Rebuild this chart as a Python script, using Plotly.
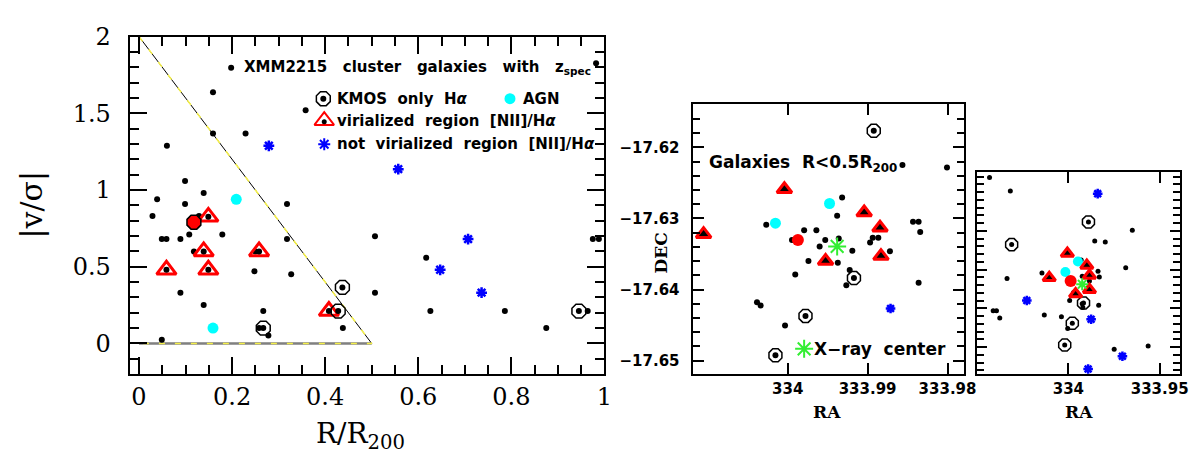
import plotly.graph_objects as go

# ---- left panel: |v/sigma| vs R/R200 ----
dots_r = [0.159, 0.358, 0.159, 0.229, 0.060, 0.099, 0.039, 0.139, 0.099, 0.318, 0.029, 0.129,
          0.049, 0.059, 0.089, 0.108, 0.179, 0.318, 0.118, 0.250, 0.248, 0.327, 0.089, 0.139,
          0.267, 0.258, 0.278, 0.049, 0.438, 0.507, 0.507, 0.617, 0.626, 0.786, 0.875, 0.964,
          0.975, 0.988, 0.982]
dots_v = [1.637, 1.519, 1.368, 1.368, 1.288, 1.059, 0.939, 0.981, 0.909, 0.909, 0.830, 0.830,
          0.680, 0.680, 0.680, 0.710, 0.710, 0.680, 0.600, 0.600, 0.470, 0.451, 0.331, 0.251,
          0.211, 0.100, 0.051, 0.024, 0.100, 0.699, 0.331, 0.558, 0.211, 0.211, 0.100, 0.211,
          0.680, 0.680, 1.826]
kmos_r = [0.267, 0.428, 0.437, 0.945]
kmos_v = [0.100, 0.211, 0.365, 0.211]
vir_r = [0.149, 0.139, 0.258, 0.059, 0.149, 0.408]
vir_v = [0.825, 0.600, 0.600, 0.480, 0.480, 0.211]
notvir_r = [0.279, 0.557, 0.647, 0.707, 0.736]
notvir_v = [1.288, 1.136, 0.480, 0.680, 0.331]
agn_r = [0.209, 0.159]
agn_v = [0.939, 0.100]
bcg_r = [0.118]
bcg_v = [0.790]
vir_limit_r = [0.0, 0.5, 0.0]
vir_limit_v = [2.0, 0.0, 0.0]

# ---- middle panel: galaxies R < 0.5 R200 ----
mid_dots_ra = [333.98007, 333.98564, 333.99319, 333.99381, 334.00268, 333.99794, 333.99641,
               333.98432, 333.98362, 333.98342, 333.99946, 333.98936, 333.98866, 333.98969,
               333.99530, 333.99361, 333.99600, 333.99191, 333.98721, 333.99740, 333.99373,
               333.99224, 333.99905, 333.99266, 333.98362, 334.00384, 334.00338, 334.00033]
mid_dots_dec = [-17.62282, -17.62250, -17.62704, -17.62963, -17.63090, -17.63167, -17.63167,
                -17.63045, -17.63045, -17.63190, -17.63303, -17.63272, -17.63272, -17.63340,
                -17.63303, -17.63281, -17.63394, -17.63453, -17.63462, -17.63599, -17.63622,
                -17.63726, -17.63789, -17.63939, -17.63903, -17.64180, -17.64225, -17.64507]
mid_kmos_ra = [333.98923, 333.99171, 333.99777, 334.00153]
mid_kmos_dec = [-17.61768, -17.63839, -17.64371, -17.64925]
mid_vir_ra = [334.00041, 333.99043, 333.98845, 334.01052, 333.98833, 333.99526]
mid_vir_dec = [-17.62590, -17.62917, -17.63131, -17.63222, -17.63530, -17.63599]
mid_notvir_ra = [333.98713]
mid_notvir_dec = [-17.64266]
mid_agn_ra = [333.99476, 334.00153]
mid_agn_dec = [-17.62790, -17.63067]
mid_bcg_ra = [333.99872]
mid_bcg_dec = [-17.63303]
xray_ra = [333.99381]
xray_dec = [-17.63394]

# ---- right panel: all galaxies ----
all_dots_ra = [334.04316, 334.03178, 333.96497, 333.98555, 333.97978, 333.96858, 334.03359,
               334.01445, 333.98375, 333.98303, 334.04117, 334.03936, 334.03756, 334.01318,
               334.00379, 334.00036, 333.98339, 333.99928, 333.97490, 333.95630, 333.99296,
               333.99242, 333.98844, 333.99711, 333.99242, 333.99206]
all_dots_dec = [-17.60621, -17.60972, -17.61986, -17.62262, -17.62287, -17.62949, -17.63225,
                -17.63083, -17.63041, -17.63192, -17.64063, -17.64063, -17.64247, -17.64172,
                -17.64214, -17.64515, -17.63920, -17.63795, -17.65051, -17.64967, -17.62748,
                -17.63167, -17.63292, -17.63586, -17.63879, -17.63979]
all_kmos_ra = [333.98899, 334.03106, 333.99169, 333.99783, 334.00199]
all_kmos_dec = [-17.61768, -17.62354, -17.63862, -17.64381, -17.64942]
all_vir_ra = [334.00054, 334.01047, 333.98989, 333.98844, 333.98844, 333.99603]
all_vir_dec = [-17.62580, -17.63208, -17.62890, -17.63150, -17.63518, -17.63627]
all_notvir_ra = [333.98393, 334.02275, 333.98754, 333.97039, 333.98917]
all_notvir_dec = [-17.61039, -17.63795, -17.64281, -17.65235, -17.65562]
all_agn_ra = [333.99476, 334.00163]
all_agn_dec = [-17.62790, -17.63058]
all_bcg_ra = [333.99874]
all_bcg_dec = [-17.63292]
all_xray_ra = [333.99242]
all_xray_dec = [-17.63376]

# tick labels
r_ticks = [0, 0.2, 0.4, 0.6, 0.8, 1]
r_labels = ["0", "0.2", "0.4", "0.6", "0.8", "1"]
v_ticks = [0, 0.5, 1, 1.5, 2]
v_labels = ["0", "0.5", "1", "1.5", "2"]
mid_ra_ticks = [334.0, 333.99, 333.98]
mid_ra_labels = ["334", "333.99", "333.98"]
dec_ticks = [-17.62, -17.63, -17.64, -17.65]
dec_labels = ["\u221217.62", "\u221217.63", "\u221217.64", "\u221217.65"]
all_ra_ticks = [334.0, 333.95]
all_ra_labels = ["334", "333.95"]

SERIF = "DejaVu Serif"
SANS = "DejaVu Sans"
NB = "\u00a0"
GREEN = "#33ee33"

fig = go.Figure()


def add_points(xa, ya, xs, ys, **marker):
    fig.add_trace(go.Scatter(x=xs, y=ys, xaxis=xa, yaxis=ya, mode="markers",
                             marker=marker, showlegend=False, hoverinfo="skip"))


def star(color, size, width=2.5):
    return dict(symbol="asterisk-open", color=color, size=size,
                line=dict(color=color, width=width))


# left panel
fig.add_trace(go.Scatter(x=vir_limit_r, y=vir_limit_v, mode="lines", showlegend=False,
                         line=dict(color="black", width=1)))
fig.add_trace(go.Scatter(x=vir_limit_r[1:], y=vir_limit_v[1:], mode="lines", showlegend=False,
                         line=dict(color="gray", width=2.5)))
fig.add_trace(go.Scatter(x=vir_limit_r, y=vir_limit_v, mode="lines", showlegend=False,
                         line=dict(color="#f5f04a", width=1.5, dash="6px,10px")))
add_points("x", "y", dots_r, dots_v, color="black", size=6)
add_points("x", "y", vir_r, vir_v, symbol="triangle-up-open", color="red", size=17,
           line=dict(color="red", width=3))
add_points("x", "y", vir_r, vir_v, color="black", size=6)
add_points("x", "y", kmos_r, kmos_v, symbol="octagon-open", color="black", size=15,
           line=dict(color="black", width=1.5))
add_points("x", "y", kmos_r, kmos_v, color="black", size=6)
add_points("x", "y", notvir_r, notvir_v, **star("blue", 9))
add_points("x", "y", agn_r, agn_v, color="cyan", size=11)
add_points("x", "y", bcg_r, bcg_v, symbol="octagon", color="red", size=15,
           line=dict(color="black", width=1.5))

# legend keys (layout positions, left panel data coordinates)
add_points("x", "y", [0.198], [1.797], color="black", size=6)
add_points("x", "y", [0.396], [1.595], symbol="octagon-open", color="black", size=15,
           line=dict(color="black", width=1.5))
add_points("x", "y", [0.396], [1.595], color="black", size=6)
add_points("x", "y", [0.797], [1.595], color="cyan", size=11)
add_points("x", "y", [0.398], [1.452], symbol="triangle-up-open", color="red", size=17,
           line=dict(color="red", width=2))
add_points("x", "y", [0.398], [1.445], color="black", size=5)
add_points("x", "y", [0.398], [1.298], **star("blue", 10, 2))

# middle panel
add_points("x2", "y2", mid_dots_ra, mid_dots_dec, color="black", size=6)
add_points("x2", "y2", mid_kmos_ra, mid_kmos_dec, symbol="octagon-open", color="black", size=14,
           line=dict(color="black", width=1.5))
add_points("x2", "y2", mid_kmos_ra, mid_kmos_dec, color="black", size=6)
add_points("x2", "y2", mid_vir_ra, mid_vir_dec, symbol="triangle-up", color="black", size=13,
           line=dict(color="red", width=3))
add_points("x2", "y2", mid_notvir_ra, mid_notvir_dec, **star("blue", 8))
add_points("x2", "y2", mid_agn_ra, mid_agn_dec, color="cyan", size=11)
add_points("x2", "y2", mid_bcg_ra, mid_bcg_dec, color="red", size=12)
add_points("x2", "y2", xray_ra, xray_dec, **star(GREEN, 15, 2))
add_points("x2", "y2", [333.99794], [-17.64834], **star(GREEN, 15, 2))

# right panel
add_points("x3", "y3", all_dots_ra, all_dots_dec, color="black", size=5)
add_points("x3", "y3", all_kmos_ra, all_kmos_dec, symbol="octagon-open", color="black", size=13,
           line=dict(color="black", width=1.5))
add_points("x3", "y3", all_kmos_ra, all_kmos_dec, color="black", size=5)
add_points("x3", "y3", all_notvir_ra, all_notvir_dec, **star("blue", 8))
add_points("x3", "y3", all_agn_ra, all_agn_dec, color="cyan", size=10)
add_points("x3", "y3", all_bcg_ra, all_bcg_dec, color="red", size=12)
add_points("x3", "y3", all_vir_ra, all_vir_dec, symbol="triangle-up", color="black", size=11,
           line=dict(color="red", width=3))
add_points("x3", "y3", all_xray_ra, all_xray_dec, **star(GREEN, 10, 2))


def frame(ticklen, minor_dtick, minor_len, font, standoff, **kw):
    ax = dict(showline=True, linecolor="black", linewidth=2, mirror="ticks", ticks="inside",
              ticklen=ticklen, tickwidth=1.5, tickcolor="black", showgrid=False,
              zeroline=False, tickfont=font, ticklabelstandoff=standoff)
    if minor_dtick:
        ax["minor"] = dict(ticks="inside", dtick=minor_dtick, ticklen=minor_len,
                           tickwidth=1.5, tickcolor="black", showgrid=False)
    ax.update(kw)
    return ax


serif_ticks = dict(family=SERIF, size=24, color="black")
sans_ticks = dict(family=SANS, size=15, color="black", weight="bold")

fig.update_layout(
    width=1200, height=455, margin=dict(l=0, r=0, t=0, b=0),
    plot_bgcolor="white", paper_bgcolor="white",
    xaxis=frame(17, 0.05, 9, serif_ticks, 0, domain=[0.1025, 0.5025], range=[-0.02, 1.0],
                tickvals=r_ticks, ticktext=r_labels, anchor="y"),
    yaxis=frame(17, 0.1, 9, serif_ticks, 12, domain=[0.2015, 0.967], range=[-0.2, 2.0],
                tickvals=v_ticks, ticktext=v_labels, anchor="x"),
    xaxis2=frame(11, None, 0, sans_ticks, 0, domain=[0.5767, 0.805],
                 range=[334.0119, 333.978], tickvals=mid_ra_ticks, ticktext=mid_ra_labels,
                 anchor="y2"),
    yaxis2=frame(11, 0.002, 7, sans_ticks, 8, domain=[0.2015, 0.8132],
                 range=[-17.6519, -17.61396], tickvals=dec_ticks, ticktext=dec_labels,
                 anchor="x2"),
    xaxis3=frame(11, None, 0, sans_ticks, 0, domain=[0.8167, 0.98775],
                 range=[334.0498, 333.9386], tickvals=all_ra_ticks, ticktext=all_ra_labels,
                 anchor="y3"),
    yaxis3=frame(10, 0.002, 7, sans_ticks, 8, domain=[0.2015, 0.6609],
                 range=[-17.65695, -17.60469], tickvals=dec_ticks, showticklabels=False,
                 anchor="x3"),
)

legend_font = dict(family=SANS, size=15, color="black", weight="bold")
big_font = dict(family=SANS, size=17, color="black", weight="bold")
annotations = [
    dict(x=0.222, y=1.797, xref="x", yref="y",
         text=f"XMM2215{NB}{NB}{NB}cluster{NB}{NB}{NB}galaxies{NB}{NB}{NB}with{NB}{NB}{NB}z<sub>spec</sub>"),
    dict(x=0.422, y=1.595, xref="x", yref="y", text=f"KMOS{NB}{NB}only{NB}{NB}H<i>\u03b1</i>"),
    dict(x=0.820, y=1.595, xref="x", yref="y", text="AGN"),
    dict(x=0.422, y=1.452, xref="x", yref="y",
         text=f"virialized{NB}{NB}region{NB}{NB}[NII]/H<i>\u03b1</i>"),
    dict(x=0.422, y=1.298, xref="x", yref="y",
         text=f"not{NB}{NB}virialized{NB}{NB}region{NB}{NB}[NII]/H<i>\u03b1</i>"),
    dict(x=334.0101, y=-17.6223, xref="x2", yref="y2",
         text=f"Galaxies{NB}{NB}R&lt;0.5R<sub>200</sub>", font=big_font),
    dict(x=333.9969, y=-17.64834, xref="x2", yref="y2",
         text=f"X\u2212ray{NB}{NB}center", font=big_font),
]
for a in annotations:
    a.setdefault("font", legend_font)
    fig.add_annotation(showarrow=False, xanchor="left", yanchor="middle", **a)

# axis titles
title_font = dict(family=SERIF, size=17, color="black", weight="bold")
titles = [
    dict(x=0.297, y=0.062, text="R/R<sub>200</sub>",
         font=dict(family=SERIF, size=28, color="black")),
    dict(x=0.019, y=0.585, text="|v/\u03c3|", textangle=-90,
         font=dict(family=SERIF, size=30, color="black")),
    dict(x=0.55, y=0.477, text="DEC", textangle=-90, font=title_font),
    dict(x=0.69, y=0.115, text="RA", font=title_font),
    dict(x=0.902, y=0.115, text="RA", font=title_font),
]
for t in titles:
    fig.add_annotation(xref="paper", yref="paper", showarrow=False,
                       xanchor="center", yanchor="middle", **t)

fig.write_html("out.html")
